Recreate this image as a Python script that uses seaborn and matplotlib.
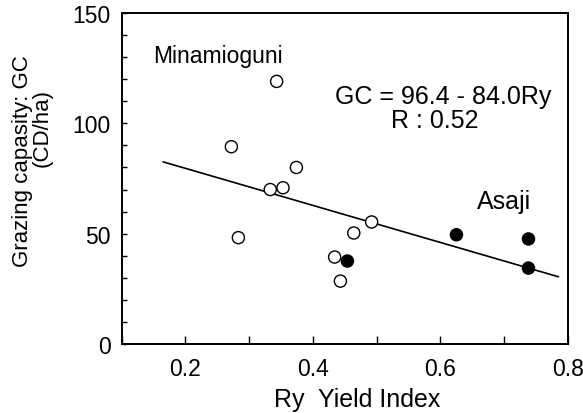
import matplotlib
matplotlib.use("Agg")
import matplotlib.pyplot as plt
import seaborn as sns
import pandas as pd
import numpy as np
from matplotlib.ticker import MultipleLocator

# ---- data ----
mina_ry = [0.343, 0.272, 0.374, 0.333, 0.353, 0.283, 0.492, 0.464, 0.434, 0.443]
mina_gc = [119.0, 89.4, 80.0, 70.0, 70.8, 48.2, 55.3, 50.3, 39.4, 28.5]
asaji_ry = [0.454, 0.625, 0.738, 0.738]
asaji_gc = [37.6, 49.5, 47.6, 34.4]
intercept = 96.4
slope = -84.0
fit_ry = [0.165, 0.785]
x_ticks = [0.2, 0.4, 0.6, 0.8]
y_ticks = [0, 50, 100, 150]

df = pd.DataFrame({
    "Ry": mina_ry + asaji_ry,
    "GC": mina_gc + asaji_gc,
    "site": ["Minamioguni"] * len(mina_ry) + ["Asaji"] * len(asaji_ry),
})
fit = pd.DataFrame({"Ry": fit_ry, "GC": [intercept + slope * v for v in fit_ry]})

sns.set_style("ticks")
plt.rcParams["font.family"] = ["Liberation Sans", "DejaVu Sans"]
plt.rcParams["text.color"] = "black"
plt.rcParams["xtick.color"] = "black"
plt.rcParams["ytick.color"] = "black"
plt.rcParams["axes.labelcolor"] = "black"

W, H = 583, 414
fig = plt.figure(figsize=(W / 100, H / 100), dpi=100)
ax = fig.add_axes([121.7 / W, 1 - 345 / H, (568 - 121.7) / W, (345 - 14) / H])

sns.lineplot(data=fit, x="Ry", y="GC", ax=ax, color="black", linewidth=1.2, zorder=2)
sns.scatterplot(data=df, x="Ry", y="GC", hue="site",
                palette={"Minamioguni": "white", "Asaji": "black"},
                edgecolor="black", linewidth=1.0, s=76, legend=False, ax=ax, zorder=3)

ax.set_xlim(0.1, 0.8)
ax.set_ylim(0, 150)
ax.set_xticks(x_ticks)
ax.set_xticklabels([f"{v:.1f}" for v in x_ticks])
ax.set_yticks(y_ticks)
ax.set_yticklabels([str(v) for v in y_ticks])
ax.xaxis.set_minor_locator(MultipleLocator(0.1))
ax.yaxis.set_minor_locator(MultipleLocator(10))
ax.tick_params(axis="x", which="both", direction="in", length=6, width=1.0,
               pad=9, labelsize=16.5, top=False, colors="black")
ax.tick_params(axis="y", which="both", direction="in", length=3.5, width=1.0,
               pad=8, labelsize=16.5, right=False, colors="black")
for sp in ax.spines.values():
    sp.set_visible(True)
    sp.set_linewidth(1.4)
    sp.set_color("black")
ax.set_xlabel("")
ax.set_ylabel("")

# axis labels
fig.text(356.7 / W, 1 - 400.5 / H, "Ry  Yield Index", ha="center", va="center", fontsize=18)
fig.text(23 / W, 1 - 161 / H, "Grazing capasity: GC", rotation=90,
         ha="center", va="center", fontsize=16)
fig.text(42.5 / W, 1 - 128 / H, "(CD/ha)", rotation=90,
         ha="center", va="center", fontsize=16)

# annotations
ax.text(0.2505, 128.0, "Minamioguni", ha="center", va="baseline", fontsize=16.5)
ax.text(0.70, 61.7, "Asaji", ha="center", va="baseline", fontsize=18)
ax.text(0.604, 109.1, "GC = 96.4 - 84.0Ry", ha="center", va="baseline", fontsize=18)
ax.text(0.591, 98.5, "R : 0.52", ha="center", va="baseline", fontsize=18)

fig.savefig("out.png", dpi=100)
